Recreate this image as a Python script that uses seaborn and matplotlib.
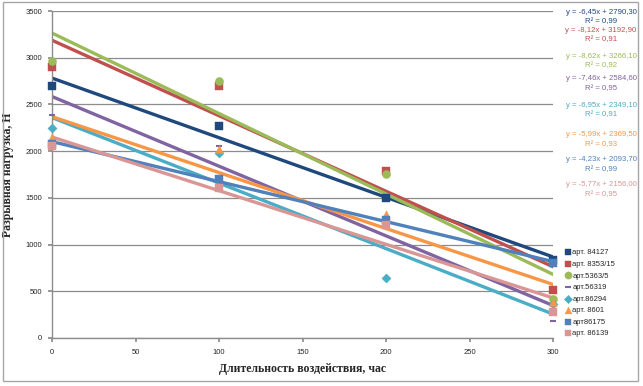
import numpy as np
import pandas as pd
import matplotlib
matplotlib.use("Agg")
import matplotlib.pyplot as plt
import seaborn as sns
from matplotlib.patches import Rectangle

# ---- data ----
hours = [0, 100, 200, 300]
series_names = ["арт. 84127", "арт. 8353/15", "арт.5363/5", "арт.56319",
                "арт.86294", "арт. 8601", "арт86175", "арт. 86139"]
v_84127 = [2700, 2270, 1500, 830]
v_8353 = [2900, 2700, 1790, 510]
v_5363 = [2960, 2750, 1760, 420]
v_56319 = [2390, 2060, 1235, 180]
v_86294 = [2250, 1980, 640, 360]
v_8601 = [2150, 2020, 1330, 385]
v_86175 = [2080, 1700, 1260, 800]
v_86139 = [2060, 1610, 1210, 280]
values = [v_84127, v_8353, v_5363, v_56319, v_86294, v_8601, v_86175, v_86139]
equations = ["y = -6,45x + 2790,30", "y = -8,12x + 3192,90", "y = -8,62x + 3266,10",
             "y = -7,46x + 2584,60", "y = -6,95x + 2349,10", "y = -5,99x + 2369,50",
             "y = -4,23x + 2093,70", "y = -5,77x + 2156,00"]
r2_labels = ["R² = 0,99", "R² = 0,91", "R² = 0,92", "R² = 0,95",
             "R² = 0,91", "R² = 0,93", "R² = 0,99", "R² = 0,95"]

colors = ["#1F497D", "#C0504D", "#9BBB59", "#8064A2",
          "#4BACC6", "#F79646", "#4F81BD", "#D99694"]
markers = ["s", "s", "o", "_", "D", "^", "s", "s"]
msizes = [30, 30, 34, 24, 22, 30, 30, 30]

df = pd.DataFrame({
    "x": np.tile(hours, len(series_names)),
    "y": np.concatenate(values),
    "series": np.repeat(series_names, len(hours)),
})

sns.set_theme(style="white")
plt.rcParams["font.family"] = ["Liberation Sans", "DejaVu Sans"]

fig = plt.figure(figsize=(6.43, 3.86), dpi=100)
ax = fig.add_axes([52/643, 1-338/386, (553-52)/643, (338-11)/386])

# outer chart border
fig.patches.append(Rectangle((3/643, 1-381/386), 635/643, 379/386,
                             transform=fig.transFigure, fill=False,
                             edgecolor="#A6A6A6", linewidth=1.0))

for name, vals, c, m, s in zip(series_names, values, colors, markers, msizes):
    sub = df[df["series"] == name]
    sns.scatterplot(data=sub, x="x", y="y", ax=ax, color=c, marker=m, s=s,
                    edgecolor=c if m != "_" else None, linewidth=1.5 if m == "_" else 0.3,
                    label=name, zorder=3)
    sns.regplot(data=sub, x="x", y="y", ax=ax, ci=None, scatter=False,
                line_kws=dict(color=c, linewidth=2.4, zorder=2))

for coll in ax.collections:
    coll.set_clip_on(False)

ax.set_xlim(0, 300)
ax.set_ylim(0, 3500)
ax.set_xticks(np.arange(0, 301, 50))
ax.set_yticks(np.arange(0, 3501, 500))
ax.yaxis.grid(True, color="#8C8C8C", linewidth=0.9)
ax.xaxis.grid(False)
for side in ["top", "right"]:
    ax.spines[side].set_visible(False)
for side in ["left", "bottom"]:
    ax.spines[side].set_color("#8C8C8C")
    ax.spines[side].set_linewidth(1.0)
ax.tick_params(axis="both", labelsize=5.5, length=3, color="#8C8C8C",
               direction="out", bottom=True, left=True)
ax.tick_params(axis="x", pad=5)
ax.tick_params(axis="y", pad=4)
ax.set_xlabel("Длительность воздействия, час", family=["Liberation Serif"],
              fontweight="bold", fontsize=8.5, labelpad=5)
ax.set_ylabel("Разрывная нагрузка, Н", family=["Liberation Serif"],
              fontweight="bold", fontsize=8.5, labelpad=8)

# trendline equations
eq_y = [12, 30, 56, 79, 105, 135, 160, 185]
for eq, r2, yy, c in zip(equations, r2_labels, eq_y, colors):
    fig.text(601/643, 1-yy/386, eq, color=c, fontsize=5.6, ha="center", va="center")
    fig.text(601/643, 1-(yy+10)/386, r2, color=c, fontsize=5.6, ha="center", va="center")

leg = ax.legend(loc="upper left", bbox_to_anchor=(561/643, 1-246/386),
                bbox_transform=fig.transFigure, frameon=False, fontsize=5.5,
                handletextpad=0.1, labelspacing=0.55, borderaxespad=0,
                handlelength=1.0, markerscale=0.9)

fig.savefig("out.png", dpi=100)
